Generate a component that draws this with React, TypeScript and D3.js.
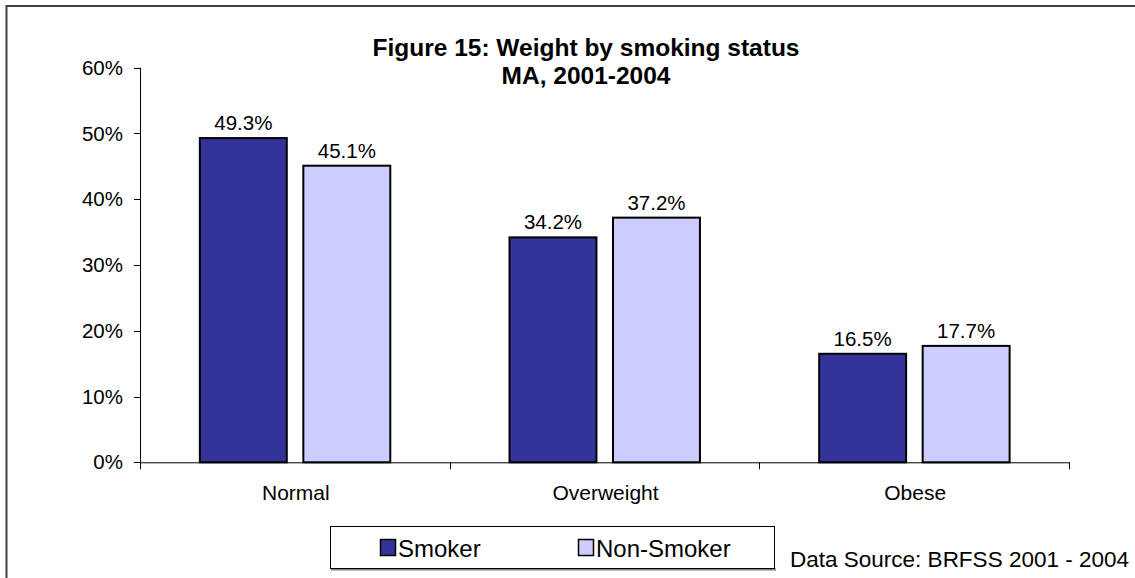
import React, { useEffect, useRef } from "react";
import * as d3 from "d3";

// Weight categories and the share of each smoking group in them (proportions)
const categories = ["Normal", "Overweight", "Obese"];
const seriesNames = ["Smoker", "Non-Smoker"];
const smokerValues = [0.493, 0.342, 0.165];
const nonSmokerValues = [0.451, 0.372, 0.177];
const yTicks = [0, 0.1, 0.2, 0.3, 0.4, 0.5, 0.6];
const titleLines = ["Figure 15: Weight by smoking status", "MA, 2001-2004"];
const sourceNote = "Data Source: BRFSS 2001 - 2004";

const seriesColors = ["#333399", "#CCCCFF"];
const FONT = "'Liberation Sans', Arial, Helvetica, sans-serif";

const W = 1135;
const H = 578;

export default function App() {
  const ref = useRef<SVGSVGElement | null>(null);

  useEffect(() => {
    const svg = d3.select(ref.current);
    svg.selectAll("*").remove();

    const plot = { left: 141, right: 1070, top: 67.7, bottom: 462.3 };

    const y = d3.scaleLinear().domain([0, 0.6]).range([plot.bottom, plot.top]);
    const x = d3.scaleBand<string>().domain(categories).range([plot.left, plot.right]).padding(0);
    const bw = x.bandwidth();
    const inner = d3
      .scaleBand<string>()
      .domain(seriesNames)
      .range([bw * 0.19, bw * 0.805])
      .paddingInner(0.16);

    // outer frame (left and top edges visible)
    svg
      .append("path")
      .attr("d", `M6.5,${H} V6 H${W}`)
      .attr("fill", "none")
      .attr("stroke", "#404040")
      .attr("stroke-width", 2);

    // title
    const title = svg
      .append("text")
      .attr("text-anchor", "middle")
      .attr("font-family", FONT)
      .attr("font-weight", "bold")
      .attr("font-size", 24.5)
      .attr("fill", "#000");
    titleLines.forEach((line, i) => {
      title.append("tspan").attr("x", 586).attr("y", 56 + i * 28).text(line);
    });

    // y axis
    const gy = svg.append("g");
    gy.append("line")
      .attr("x1", plot.left - 0.5)
      .attr("x2", plot.left - 0.5)
      .attr("y1", plot.top)
      .attr("y2", plot.bottom)
      .attr("stroke", "#000")
      .attr("stroke-width", 1);
    yTicks.forEach((t) => {
      const yy = Math.round(y(t)) + 0.5;
      gy.append("line")
        .attr("x1", plot.left - 7)
        .attr("x2", plot.left - 0.5)
        .attr("y1", yy)
        .attr("y2", yy)
        .attr("stroke", "#000");
      gy.append("text")
        .attr("x", 123)
        .attr("y", y(t))
        .attr("dy", "0.35em")
        .attr("text-anchor", "end")
        .attr("font-family", FONT)
        .attr("font-size", 20.5)
        .attr("fill", "#000")
        .text(d3.format(".0%")(t));
    });

    // bars
    const valuesBySeries = [smokerValues, nonSmokerValues];
    seriesNames.forEach((s, si) => {
      const g = svg.append("g");
      categories.forEach((c, ci) => {
        const v = valuesBySeries[si][ci];
        const bx = (x(c) ?? 0) + (inner(s) ?? 0);
        g.append("rect")
          .attr("x", bx)
          .attr("y", y(v))
          .attr("width", inner.bandwidth())
          .attr("height", y(0) - y(v))
          .attr("fill", seriesColors[si])
          .attr("stroke", "#000")
          .attr("stroke-width", 2);
        g.append("text")
          .attr("x", bx + inner.bandwidth() / 2)
          .attr("y", y(v) - 8)
          .attr("text-anchor", "middle")
          .attr("font-family", FONT)
          .attr("font-size", 20.5)
          .attr("fill", "#000")
          .text(d3.format(".1%")(v));
      });
    });

    // x axis
    const gx = svg.append("g");
    gx.append("line")
      .attr("x1", plot.left - 1)
      .attr("x2", plot.right)
      .attr("y1", plot.bottom + 0.5)
      .attr("y2", plot.bottom + 0.5)
      .attr("stroke", "#000");
    const boundaries = [...categories.map((c) => x(c) ?? 0), plot.right];
    boundaries.forEach((bx) => {
      const xx = Math.round(bx) - 0.5;
      gx.append("line")
        .attr("x1", xx)
        .attr("x2", xx)
        .attr("y1", plot.bottom)
        .attr("y2", plot.bottom + 7)
        .attr("stroke", "#000");
    });
    categories.forEach((c) => {
      gx.append("text")
        .attr("x", (x(c) ?? 0) + bw / 2)
        .attr("y", 500)
        .attr("text-anchor", "middle")
        .attr("font-family", FONT)
        .attr("font-size", 21)
        .attr("fill", "#000")
        .text(c);
    });

    // legend
    const lg = svg.append("g");
    lg.append("line")
      .attr("x1", 331)
      .attr("x2", 776)
      .attr("y1", 569.5)
      .attr("y2", 569.5)
      .attr("stroke", "#808080")
      .attr("stroke-width", 2);
    lg.append("rect")
      .attr("x", 330.5)
      .attr("y", 526.5)
      .attr("width", 444)
      .attr("height", 42)
      .attr("fill", "#fff")
      .attr("stroke", "#000")
      .attr("stroke-width", 1);
    const legendX = [380, 578];
    seriesNames.forEach((s, i) => {
      lg.append("rect")
        .attr("x", legendX[i] + 0.5)
        .attr("y", 539.5)
        .attr("width", 15)
        .attr("height", 16)
        .attr("fill", seriesColors[i])
        .attr("stroke", "#000")
        .attr("stroke-width", 1.5);
      lg.append("text")
        .attr("x", legendX[i] + 18)
        .attr("y", 556.5)
        .attr("font-family", FONT)
        .attr("font-size", 24)
        .attr("fill", "#000")
        .text(s);
    });

    // source note
    svg
      .append("text")
      .attr("x", 1129)
      .attr("y", 567)
      .attr("text-anchor", "end")
      .attr("font-family", FONT)
      .attr("font-size", 22.5)
      .attr("fill", "#000")
      .text(sourceNote);
  }, []);

  return (
    <div style={{ position: "absolute", left: 0, top: 0 }}>
      <svg ref={ref} width={W} height={H} style={{ display: "block", background: "#fff" }} />
    </div>
  );
}
